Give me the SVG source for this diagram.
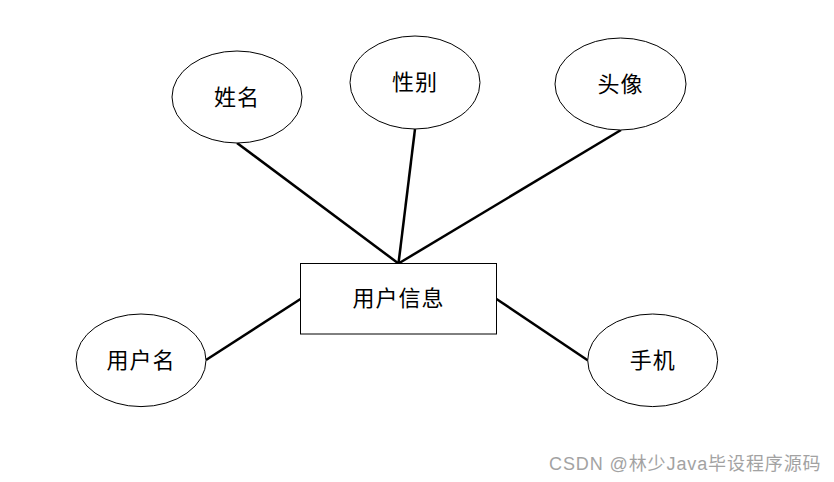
<svg xmlns="http://www.w3.org/2000/svg" width="834" height="482" viewBox="0 0 834 482">
<style>
.e{fill:#fff;stroke:#000;stroke-width:1}
.r{fill:#fff;stroke:#000;stroke-width:1}
.t{font-family:"Noto Sans CJK SC","Noto Sans",sans-serif;font-size:22px;fill:#000;text-anchor:middle;letter-spacing:1px}
.c{stroke:#000;stroke-width:2.5;fill:none}
.w{font-family:"Liberation Sans","Noto Sans CJK SC",sans-serif;font-size:18px;fill:#999;opacity:0.9;letter-spacing:0.9px}
</style>
<rect width="834" height="482" fill="#fff"/>
<g id="connectors">
<line class="c" x1="237" y1="143" x2="398.5" y2="263.5"/>
<line class="c" x1="415" y1="129" x2="398.5" y2="263.5"/>
<line class="c" x1="621" y1="130" x2="398.5" y2="263.5"/>
<line class="c" x1="206" y1="360" x2="300.5" y2="299"/>
<line class="c" x1="496.5" y1="299" x2="588" y2="360.5"/>
</g>
<g id="n-xingming"><ellipse class="e" cx="237" cy="97" rx="65" ry="46"/><text class="t" x="237" y="104.5">姓名</text></g>
<g id="n-xingbie"><ellipse class="e" cx="415" cy="82.5" rx="65" ry="46.5"/><text class="t" x="415" y="90">性别</text></g>
<g id="n-touxiang"><ellipse class="e" cx="620.5" cy="84" rx="65.5" ry="46"/><text class="t" x="620.5" y="91.5">头像</text></g>
<g id="n-yonghuming"><ellipse class="e" cx="141" cy="360.3" rx="65" ry="46.3"/><text class="t" x="141" y="368">用户名</text></g>
<g id="n-shouji"><ellipse class="e" cx="652.7" cy="360.3" rx="65" ry="46.3"/><text class="t" x="652.7" y="368">手机</text></g>
<g id="n-yonghuxinxi"><rect class="r" x="300.5" y="263.5" width="196" height="70.5"/><text class="t" x="398.5" y="306">用户信息</text></g>
<text class="w" x="549" y="470">CSDN @林少Java毕设程序源码</text>
</svg>
